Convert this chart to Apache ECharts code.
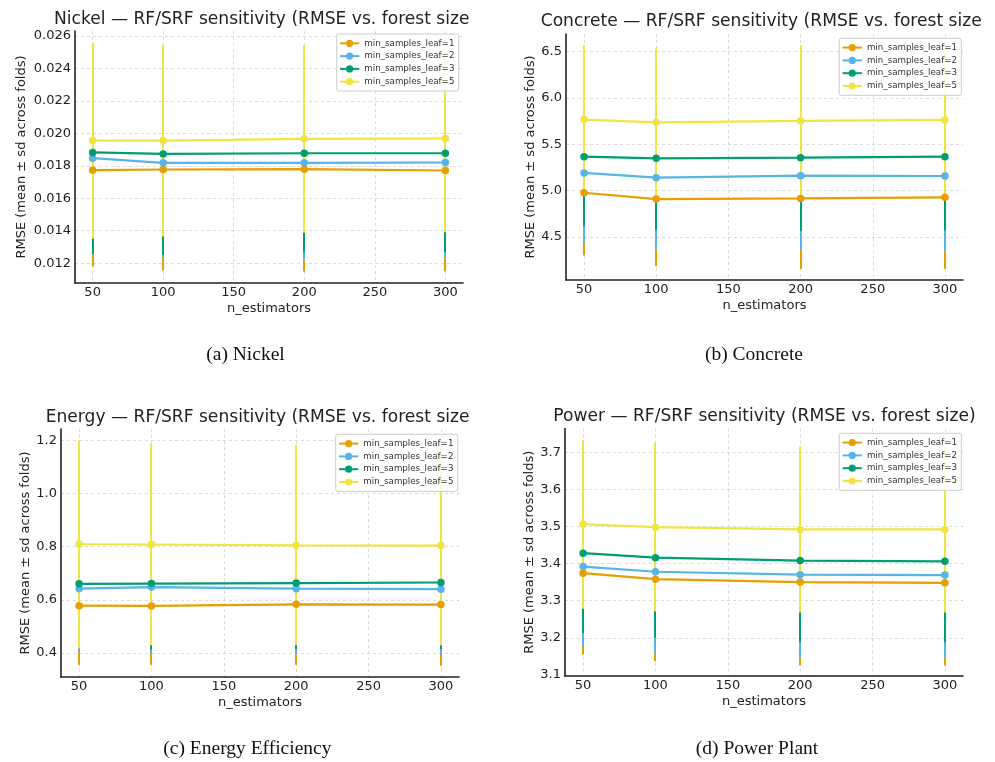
<!DOCTYPE html>
<html>
<head>
<meta charset="utf-8">
<script src="https://cdn.jsdelivr.net/npm/echarts@6/dist/echarts.min.js"></script>
<style>
html,body{margin:0;padding:0;background:#fff;}
#chart{width:995px;height:762px;}
</style>
</head>
<body>
<div id="chart"></div>
<script>
// ---------------- DATA ----------------
const nEstimators = [50, 100, 200, 300];
const xTicks = [50, 100, 150, 200, 250, 300];
const xRange = [37.5, 312.5];
const leafNames = ['min_samples_leaf=1', 'min_samples_leaf=2', 'min_samples_leaf=3', 'min_samples_leaf=5'];

const panelTitles = [
  'Nickel — RF/SRF sensitivity (RMSE vs. forest size',
  'Concrete — RF/SRF sensitivity (RMSE vs. forest size',
  'Energy — RF/SRF sensitivity (RMSE vs. forest size',
  'Power — RF/SRF sensitivity (RMSE vs. forest size)'
];
const captions = ['(a) Nickel', '(b) Concrete', '(c) Energy Efficiency', '(d) Power Plant'];
const yAxisName = 'RMSE (mean ± sd across folds)';
const xAxisName = 'n_estimators';

// Nickel
const nickelMean = [
  [0.01773, 0.01777, 0.01779, 0.01771],
  [0.01847, 0.01818, 0.01818, 0.01820],
  [0.01882, 0.01873, 0.01877, 0.01877],
  [0.01955, 0.01955, 0.01966, 0.01968]
];
const nickelSd = [
  [0.00593, 0.00622, 0.00630, 0.00622],
  [0.00592, 0.00587, 0.00593, 0.00589],
  [0.00625, 0.00622, 0.00611, 0.00609],
  [0.00604, 0.00590, 0.00578, 0.00578]
];
const nickelTicks = [0.012, 0.014, 0.016, 0.018, 0.020, 0.022, 0.024, 0.026];
const nickelRange = [0.01078, 0.0263];

// Concrete
const concreteMean = [
  [4.978, 4.910, 4.917, 4.928],
  [5.191, 5.140, 5.162, 5.158],
  [5.367, 5.349, 5.356, 5.367],
  [5.766, 5.737, 5.752, 5.763]
];
const concreteSd = [
  [0.676, 0.723, 0.759, 0.770],
  [0.752, 0.766, 0.802, 0.809],
  [0.748, 0.773, 0.791, 0.795],
  [0.802, 0.795, 0.816, 0.810]
];
const concreteTicks = [4.5, 5.0, 5.5, 6.0, 6.5];
const concreteRange = [4.0375, 6.6885];

// Energy
const energyMean = [
  [0.578, 0.577, 0.583, 0.582],
  [0.642, 0.648, 0.642, 0.640],
  [0.660, 0.661, 0.663, 0.665],
  [0.809, 0.808, 0.805, 0.804]
];
const energySd = [
  [0.222, 0.221, 0.227, 0.230],
  [0.236, 0.248, 0.248, 0.246],
  [0.237, 0.248, 0.248, 0.250],
  [0.391, 0.379, 0.376, 0.376]
];
const energyTicks = [0.4, 0.6, 0.8, 1.0, 1.2];
const energyRange = [0.3096, 1.2424];

// Power
const powerMean = [
  [3.374, 3.358, 3.350, 3.348],
  [3.392, 3.378, 3.370, 3.369],
  [3.428, 3.416, 3.408, 3.406],
  [3.506, 3.498, 3.492, 3.492]
];
const powerSd = [
  [0.219, 0.221, 0.225, 0.223],
  [0.215, 0.221, 0.222, 0.221],
  [0.215, 0.216, 0.220, 0.218],
  [0.228, 0.227, 0.224, 0.224]
];
const powerTicks = [3.1, 3.2, 3.3, 3.4, 3.5, 3.6, 3.7];
const powerRange = [3.097, 3.764];

// ---------------- STYLE / LAYOUT ----------------
const colors = ['#E69F00', '#56B4E9', '#009E73', '#F0E442'];
const FONT = '"DejaVu Sans", sans-serif';
const SERIF = '"Liberation Serif", "Times New Roman", serif';

const panels = [
  { mean: nickelMean, sd: nickelSd, ticks: nickelTicks, range: nickelRange, dec: 3,
    grid: { left: 75, top: 31, width: 388, height: 252 }, yNameGap: 46.5,
    titlePos: { left: 54, top: 11 }, legendPos: { left: 336.7, top: 34 }, cap: [245.5, 355] },
  { mean: concreteMean, sd: concreteSd, ticks: concreteTicks, range: concreteRange, dec: 1,
    grid: { left: 566, top: 34, width: 397, height: 246 }, yNameGap: 28.5,
    titlePos: { left: 540.7, top: 13.5 }, legendPos: { left: 839.3, top: 38.3 }, cap: [754, 355] },
  { mean: energyMean, sd: energySd, ticks: energyTicks, range: energyRange, dec: 1,
    grid: { left: 61, top: 429, width: 398, height: 248 }, yNameGap: 27,
    titlePos: { left: 45.7, top: 409 }, legendPos: { left: 335.7, top: 434.3 }, cap: [247.4, 749] },
  { mean: powerMean, sd: powerSd, ticks: powerTicks, range: powerRange, dec: 1,
    grid: { left: 565, top: 428.5, width: 398, height: 247.5 }, yNameGap: 27.5,
    titlePos: { left: 553.3, top: 408.5 }, legendPos: { left: 839.3, top: 433.3 }, cap: [757, 749] }
];

const splitLineStyle = { color: '#d2d2d2', width: 0.8, type: [3, 3] };
const axisLineStyle = { color: '#222', width: 1.6 };

const option = {
  animation: false,
  backgroundColor: '#fff',
  title: [],
  legend: [],
  grid: [],
  xAxis: [],
  yAxis: [],
  series: [],
  graphic: []
};

panels.forEach((p, i) => {
  option.title.push({
    text: panelTitles[i],
    left: p.titlePos.left,
    top: p.titlePos.top,
    padding: 0,
    textStyle: { fontFamily: FONT, fontSize: 17.1, fontWeight: 'normal', color: '#222' }
  });
  option.grid.push(Object.assign({ containLabel: false }, p.grid));
  option.xAxis.push({
    type: 'value', gridIndex: i, min: xRange[0], max: xRange[1],
    name: xAxisName, nameLocation: 'middle', nameGap: 19.5,
    nameTextStyle: { fontFamily: FONT, fontSize: 13, color: '#222' },
    axisLine: { show: true, onZero: false, lineStyle: axisLineStyle },
    axisTick: { show: false, customValues: xTicks },
    axisLabel: { customValues: xTicks, margin: 3, fontFamily: FONT, fontSize: 13, color: '#222' },
    splitLine: { show: true, lineStyle: splitLineStyle }
  });
  option.yAxis.push({
    type: 'value', gridIndex: i, min: p.range[0], max: p.range[1],
    name: yAxisName, nameLocation: 'middle', nameRotate: 90, nameGap: p.yNameGap,
    nameTextStyle: { fontFamily: FONT, fontSize: 13, color: '#222' },
    axisLine: { show: true, onZero: false, lineStyle: axisLineStyle },
    axisTick: { show: false, customValues: p.ticks },
    axisLabel: { customValues: p.ticks, margin: 4, fontFamily: FONT, fontSize: 13, color: '#222',
      formatter: v => Number(v).toFixed(p.dec) },
    splitLine: { show: true, lineStyle: splitLineStyle }
  });
  option.legend.push({
    left: p.legendPos.left, top: p.legendPos.top, orient: 'vertical',
    data: leafNames,
    itemWidth: 19.3, itemHeight: 9, itemGap: 3.8, itemTextGap: 6.7,
    padding: [4.8, 4.3, 4.8, 2.3],
    borderColor: '#cccccc', borderWidth: 1, borderRadius: 2,
    backgroundColor: 'rgba(255,255,255,0.85)',
    selectedMode: false,
    textStyle: { fontFamily: FONT, fontSize: 8.7, color: '#333', lineHeight: 9 }
  });
  // error bars (drawn below the lines)
  leafNames.forEach((nm, j) => {
    const col = colors[j];
    option.series.push({
      type: 'custom', name: 'sd ' + nm + ' #' + i, xAxisIndex: i, yAxisIndex: i,
      silent: true, z: 2,
      encode: { x: 0, y: [1, 2] },
      data: nEstimators.map((x, k) => [x, p.mean[j][k] - p.sd[j][k], p.mean[j][k] + p.sd[j][k]]),
      renderItem: (params, api) => {
        const a = api.coord([api.value(0), api.value(1)]);
        const b = api.coord([api.value(0), api.value(2)]);
        const px = Math.round(a[0]);
        return { type: 'line', shape: { x1: px, y1: a[1], x2: px, y2: b[1] },
          style: { stroke: col, lineWidth: 2 } };
      }
    });
  });
  leafNames.forEach((nm, j) => {
    option.series.push({
      type: 'line', name: nm, xAxisIndex: i, yAxisIndex: i, z: 3,
      data: nEstimators.map((x, k) => [x, p.mean[j][k]]),
      symbol: 'circle', symbolSize: 7.5, showSymbol: true,
      lineStyle: { width: 2.2, color: colors[j] },
      itemStyle: { color: colors[j] },
      emphasis: { disabled: true }
    });
  });
  option.graphic.push({
    type: 'text', x: p.cap[0], y: p.cap[1], silent: true,
    style: { text: captions[i], fontFamily: SERIF, fontSize: 19.5, fill: '#111',
      align: 'center', verticalAlign: 'middle' }
  });
});

const chart = echarts.init(document.getElementById('chart'), null, { renderer: 'canvas' });
chart.setOption(option);
</script>
</body>
</html>
